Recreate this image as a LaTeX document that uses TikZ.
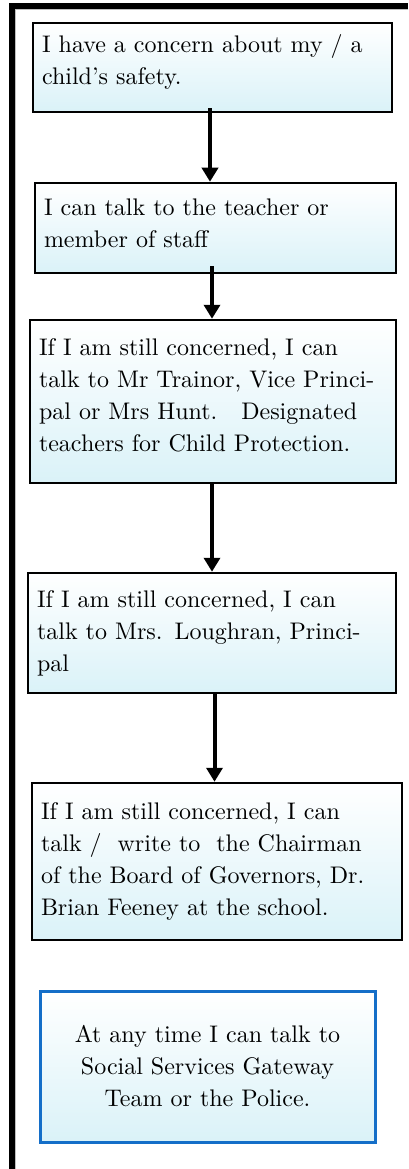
\documentclass[tikz,border=0pt]{standalone}
\usetikzlibrary{arrows.meta}
\definecolor{boxcyan}{RGB}{218,242,248}
\definecolor{gateblue}{RGB}{20,110,200}
\DeclareFontFamily{TU}{lmten}{}
\DeclareFontShape{TU}{lmten}{m}{n}{<-> "[lmroman10-regular.otf]:mapping=tex-text"}{}
\newcommand\lowpad[1]{\rule[-#1]{0pt}{#1}}

\begin{document}
\begin{tikzpicture}[x=1pt,y=-1pt,>={Triangle[width=16pt,length=14pt]},
  main node/.style={draw,line width=2.5pt,top color=white,bottom color=boxcyan,
    align=left,inner xsep=9pt,font=\fontfamily{lmten}\fontsize{24}{32}\selectfont},
  help node/.style={main node,draw=gateblue,line width=3pt,align=center},
  flow/.style={->,line width=4pt}]

            \useasboundingbox (0,0) rectangle (408,1169);
            \draw[line width=6pt,miter limit=10] (12,1169) -- (12,6.5) -- (408,6.5);
            \draw[black!25,line width=1pt] (15.5,1169) -- (15.5,10) -- (408,10);

            \node[main node,text width=341pt,minimum height=89pt] (1) at (212.5,67.5)
              {I have a concern about my / a\\child’s safety.\lowpad{15pt}};
            \node[main node,text width=343pt,minimum height=90pt] (2) at (215.5,228)
              {I can talk to the teacher or\\member of staff\lowpad{10pt}};
            \node[main node,text width=348pt,minimum height=163pt] (3) at (213,401.5)
              {If I am still concerned, I can\\talk to Mr Trainor, Vice Princi-\\pal or Mrs Hunt.\ \ \ Designated\\teachers for Child Protection.\lowpad{12pt}};
            \node[main node,text width=350pt,minimum height=120pt] (4) at (212,633)
              {If I am still concerned, I can\\talk to Mrs. Loughran, Princi-\\pal};
            \node[main node,text width=352pt,minimum height=157pt] (5) at (217,861.5)
              {If I am still concerned, I can\\talk /\ \ write to\ \ the Chairman\\of the Board of Governors, Dr.\\Brian Feeney at the school.};
            \node[help node,text width=317pt,minimum height=151pt] (6) at (207.5,1066.5)
              {At any time I can talk to\\Social Services Gateway\\Team or the Police.};

            \draw[flow] ([xshift=-2.5pt,yshift=5pt]1.south) to ([xshift=-5.5pt]2.north);
            \draw[flow] ([xshift=-3.5pt,yshift=8pt]2.south) to ([xshift=-1pt]3.north);
            \draw[flow] ([xshift=-1pt]3.south) to (4.north);
            \draw[flow] ([xshift=2.5pt]4.south) to ([xshift=-2.5pt]5.north);

        \end{tikzpicture}
\end{document}
